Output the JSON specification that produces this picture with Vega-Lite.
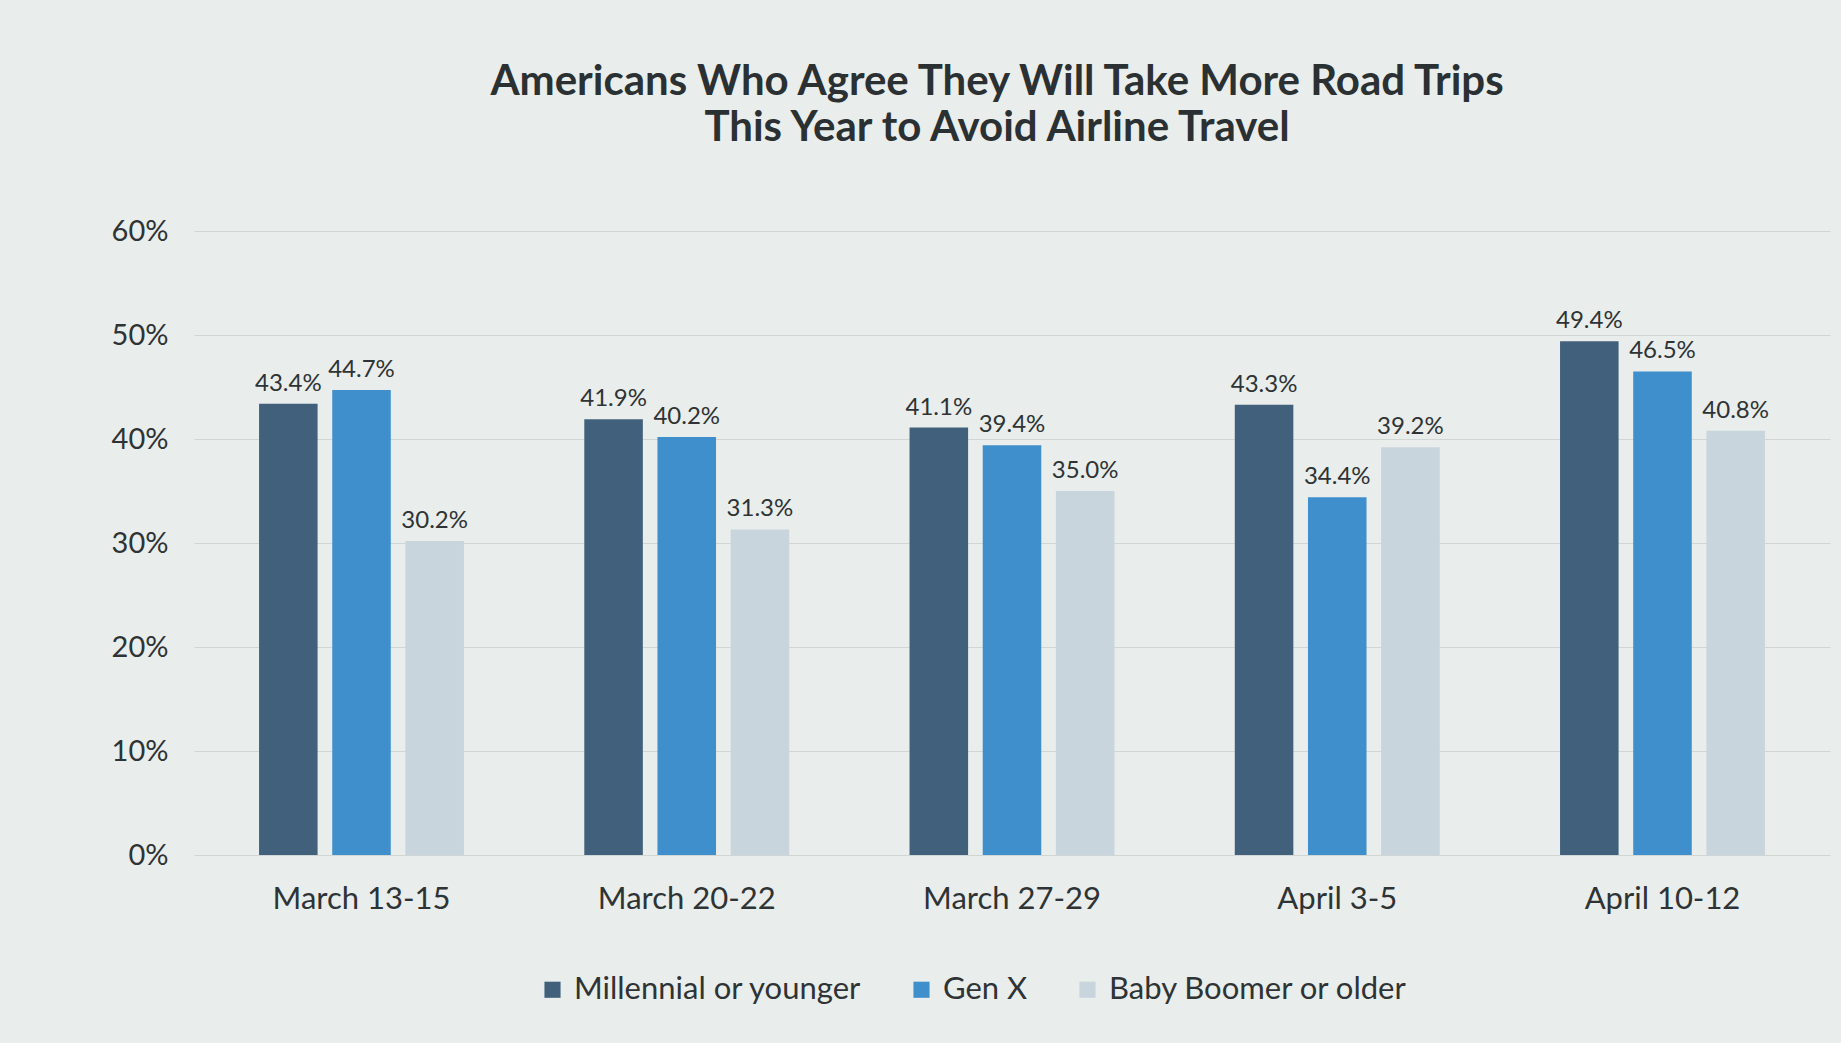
{
  "$schema": "https://vega.github.io/schema/vega-lite/v6.json",
  "autosize": "none",
  "width": 1636,
  "height": 624,
  "padding": {"left": 194, "top": 231, "right": 11, "bottom": 188},
  "background": "#e9edeb",
  "config": {
    "view": {"stroke": null},
    "font": "Lato",
    "text": {"color": "#2e3335"}
  },
  "title": {
    "text": ["Americans Who Agree They Will Take More Road Trips", "This Year to Avoid Airline Travel"],
    "font": "Lato",
    "fontSize": 42,
    "fontWeight": "bold",
    "color": "#2b3032",
    "lineHeight": 46,
    "anchor": "middle",
    "dx": -15,
    "offset": 67
  },
  "data": {
    "values": [
      {"period": "March 13-15", "generation": "Millennial or younger", "share": 0.434},
      {"period": "March 13-15", "generation": "Gen X", "share": 0.447},
      {"period": "March 13-15", "generation": "Baby Boomer or older", "share": 0.302},
      {"period": "March 20-22", "generation": "Millennial or younger", "share": 0.419},
      {"period": "March 20-22", "generation": "Gen X", "share": 0.402},
      {"period": "March 20-22", "generation": "Baby Boomer or older", "share": 0.313},
      {"period": "March 27-29", "generation": "Millennial or younger", "share": 0.411},
      {"period": "March 27-29", "generation": "Gen X", "share": 0.394},
      {"period": "March 27-29", "generation": "Baby Boomer or older", "share": 0.350},
      {"period": "April 3-5", "generation": "Millennial or younger", "share": 0.433},
      {"period": "April 3-5", "generation": "Gen X", "share": 0.344},
      {"period": "April 3-5", "generation": "Baby Boomer or older", "share": 0.392},
      {"period": "April 10-12", "generation": "Millennial or younger", "share": 0.494},
      {"period": "April 10-12", "generation": "Gen X", "share": 0.465},
      {"period": "April 10-12", "generation": "Baby Boomer or older", "share": 0.408}
    ]
  },
  "encoding": {
    "x": {
      "field": "period",
      "type": "nominal",
      "sort": null,
      "scale": {"paddingInner": 0.37, "paddingOuter": 0.2},
      "axis": {
        "title": null,
        "labelAngle": 0,
        "labelFont": "Lato",
        "labelFontSize": 31,
        "labelColor": "#2e3335",
        "labelPadding": 29,
        "ticks": false,
        "domain": false
      }
    },
    "xOffset": {
      "field": "generation",
      "type": "nominal",
      "sort": ["Millennial or younger", "Gen X", "Baby Boomer or older"],
      "scale": {"paddingInner": 0.2}
    },
    "y": {
      "field": "share",
      "type": "quantitative",
      "scale": {"domain": [0, 0.6]},
      "axis": {
        "title": null,
        "values": [0, 0.1, 0.2, 0.3, 0.4, 0.5, 0.6],
        "format": ".0%",
        "labelFont": "Lato",
        "labelFontSize": 29,
        "labelColor": "#2e3335",
        "labelPadding": 26,
        "ticks": false,
        "domain": false,
        "gridColor": "#cfd6d4",
        "gridWidth": 1.2
      }
    }
  },
  "layer": [
    {
      "mark": {"type": "bar"},
      "encoding": {
        "color": {
          "field": "generation",
          "type": "nominal",
          "sort": ["Millennial or younger", "Gen X", "Baby Boomer or older"],
          "scale": {
            "domain": ["Millennial or younger", "Gen X", "Baby Boomer or older"],
            "range": ["#40607b", "#3f8fcc", "#c8d5dc"]
          },
          "legend": {
            "title": null,
            "orient": "none",
            "direction": "horizontal",
            "legendX": 343,
            "legendY": 743,
            "symbolType": "square",
            "symbolSize": 260,
            "symbolStrokeWidth": 0,
            "labelFont": "Lato",
            "labelFontSize": 31,
            "labelColor": "#2e3335",
            "labelLimit": 500,
            "labelOffset": 6,
            "columnPadding": 44
          }
        }
      }
    },
    {
      "mark": {"type": "text", "baseline": "bottom", "dy": -8, "fontSize": 24, "font": "Lato"},
      "encoding": {
        "text": {"field": "share", "type": "quantitative", "format": ".1%"},
        "detail": {"field": "generation"}
      }
    }
  ]
}
